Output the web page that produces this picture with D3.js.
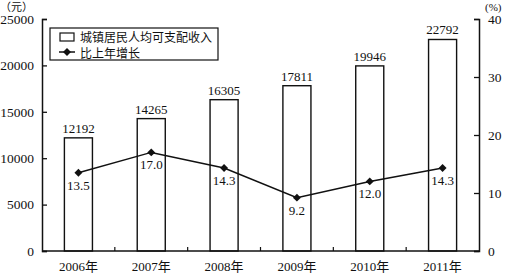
<!DOCTYPE html>
<html>
<head>
<meta charset="utf-8">
<script src="https://cdn.jsdelivr.net/npm/d3@7/dist/d3.min.js"></script>
<style>
  html, body { margin: 0; padding: 0; background: #fff; }
  svg text { font-family: "Liberation Serif", "Noto Sans CJK SC", serif; fill: #111; }
</style>
</head>
<body>
<div id="chart"></div>
<script>
// data
var years = ["2006年", "2007年", "2008年", "2009年", "2010年", "2011年"];
var income = [12192, 14265, 16305, 17811, 19946, 22792];
var growth = [13.5, 17.0, 14.3, 9.2, 12.0, 14.3];
var leftTicks = [0, 5000, 10000, 15000, 20000, 25000];
var rightTicks = [0, 10, 20, 30, 40];
var legendLabels = ["城镇居民人均可支配收入", "比上年增长"];

var width = 507, height = 274;
var plotLeft = 42, plotRight = 479, plotTop = 19, plotBottom = 251;

var svg = d3.select("#chart").append("svg")
    .attr("width", width)
    .attr("height", height);

var x = d3.scaleBand()
    .domain(years)
    .range([plotLeft, plotRight])
    .paddingInner(0.615)
    .paddingOuter(0.3075);
var yL = d3.scaleLinear().domain([0, 25000]).range([plotBottom, plotTop]);
var yR = d3.scaleLinear().domain([0, 40]).range([plotBottom, plotTop]);
var step = x.step();
var cx = function (d) { return x(d) + x.bandwidth() / 2; };

// bars
svg.append("g").selectAll("rect")
    .data(income)
    .join("rect")
    .attr("x", function (d, i) { return x(years[i]); })
    .attr("y", function (d) { return yL(d); })
    .attr("width", x.bandwidth())
    .attr("height", function (d) { return plotBottom - yL(d); })
    .attr("fill", "#fff")
    .attr("stroke", "#111")
    .attr("stroke-width", 1.4);

svg.append("g").selectAll("text")
    .data(income)
    .join("text")
    .attr("x", function (d, i) { return cx(years[i]); })
    .attr("y", function (d) { return yL(d) - 5; })
    .attr("text-anchor", "middle")
    .style("font-size", "13px")
    .text(function (d) { return d; });

// axes
var axL = svg.append("g")
    .attr("transform", "translate(" + plotLeft + ",0)")
    .call(d3.axisLeft(yL).tickValues(leftTicks).tickSize(-5).tickPadding(8).tickFormat(d3.format("d")));
var axR = svg.append("g")
    .attr("transform", "translate(" + plotRight + ",0)")
    .call(d3.axisRight(yR).tickValues(rightTicks).tickSize(-5).tickPadding(9).tickFormat(d3.format("d")));
[axL, axR].forEach(function (ax) {
    ax.select(".domain").attr("stroke", "#111").attr("stroke-width", 1.5);
    ax.selectAll(".tick line").attr("stroke", "#111").attr("stroke-width", 1.3);
    ax.selectAll(".tick text").style("font-size", "13.5px").attr("fill", "#111")
        .style("font-family", "Liberation Serif, serif");
});

// x axis with ticks between categories
svg.append("line")
    .attr("x1", plotLeft).attr("x2", plotRight)
    .attr("y1", plotBottom).attr("y2", plotBottom)
    .attr("stroke", "#111").attr("stroke-width", 1.5);
svg.append("g").selectAll("line")
    .data(years.slice(1))
    .join("line")
    .attr("x1", function (d) { return x(d) - step * x.paddingInner() / 2; })
    .attr("x2", function (d) { return x(d) - step * x.paddingInner() / 2; })
    .attr("y1", plotBottom).attr("y2", plotBottom - 4)
    .attr("stroke", "#111").attr("stroke-width", 1.2);
svg.append("g").selectAll("text")
    .data(years)
    .join("text")
    .attr("x", function (d) { return cx(d); })
    .attr("y", 271)
    .attr("text-anchor", "middle")
    .style("font-size", "13px")
    .text(function (d) { return d; });

// units
svg.append("text").attr("x", 0).attr("y", 11).style("font-size", "11px").text("（元）");
svg.append("text").attr("x", 485).attr("y", 11).style("font-size", "11px").text("(%)");

// growth line
var line = d3.line()
    .x(function (d, i) { return cx(years[i]); })
    .y(function (d) { return yR(d); });
svg.append("path")
    .datum(growth)
    .attr("d", line)
    .attr("fill", "none")
    .attr("stroke", "#111")
    .attr("stroke-width", 1.5);
var diamond = d3.symbol().type(d3.symbolDiamond2).size(40);
svg.append("g").selectAll("path")
    .data(growth)
    .join("path")
    .attr("transform", function (d, i) { return "translate(" + cx(years[i]) + "," + yR(d) + ")"; })
    .attr("d", diamond)
    .attr("fill", "#111");
svg.append("g").selectAll("text")
    .data(growth)
    .join("text")
    .attr("x", function (d, i) { return cx(years[i]); })
    .attr("y", function (d) { return yR(d) + 17; })
    .attr("text-anchor", "middle")
    .style("font-size", "13px")
    .text(function (d) { return d.toFixed(1); });

// legend
var lg = svg.append("g").attr("transform", "translate(50,28)");
lg.append("rect")
    .attr("width", 168).attr("height", 32)
    .attr("fill", "#fff").attr("stroke", "#111").attr("stroke-width", 1.2);
lg.append("rect")
    .attr("x", 10).attr("y", 5).attr("width", 14).attr("height", 8)
    .attr("fill", "#fff").attr("stroke", "#111").attr("stroke-width", 1.2);
lg.append("line")
    .attr("x1", 9).attr("x2", 25).attr("y1", 24).attr("y2", 24)
    .attr("stroke", "#111").attr("stroke-width", 1.5);
lg.append("path")
    .attr("transform", "translate(17,24)")
    .attr("d", diamond)
    .attr("fill", "#111");
lg.selectAll("text.lbl")
    .data(legendLabels)
    .join("text")
    .attr("class", "lbl")
    .attr("x", 30)
    .attr("y", function (d, i) { return 14 + i * 16; })
    .style("font-size", "12px")
    .text(function (d) { return d; });
</script>
</body>
</html>
